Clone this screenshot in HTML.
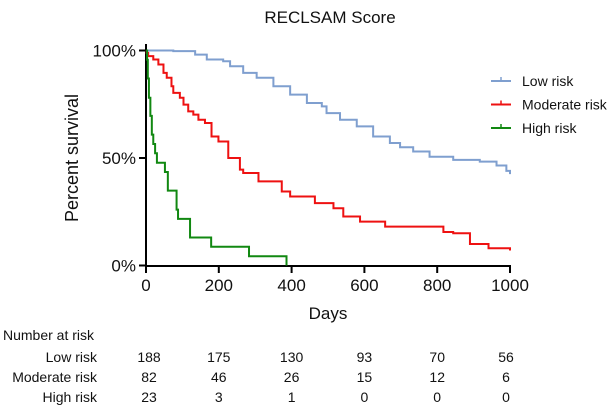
<!DOCTYPE html>
<html><head><meta charset="utf-8"><style>
body{margin:0;background:#fff;}
svg{display:block;font-family:"Liberation Sans",Arial,sans-serif;}
</style></head><body>
<svg id="chart" width="613" height="407">
<text x="330" y="23" font-size="17" text-anchor="middle" fill="#111">RECLSAM Score</text>
<text transform="translate(78,158) rotate(-90)" font-size="18" text-anchor="middle" fill="#111">Percent survival</text>
<text x="328" y="319" font-size="17" text-anchor="middle" fill="#111">Days</text>
<g id="axes"></g><g id="curves"></g><g id="legend"></g><g id="table"></g>
</svg>
<script>
const xTicks=[0,200,400,600,800,1000];
const yTicks=[0,50,100];
const seriesNames=["Low risk","Moderate risk","High risk"];
const seriesColors=["#7f9fcf","#ee1111","#118811"];
const lowT=[0,75,135,167,212,231,267,304,350,396,442,483,496,533,579,624,670,698,734,779,844,917,963,990,1000];
const lowS=[100,99.7,98.1,95.8,95,92.7,89.6,87.3,83.4,79.5,75.6,74,70.9,67.8,64.7,60,57,55,53,50.6,49.1,48.3,46.5,44,42.5];
const modT=[0,2,6,20,34,48,57,70,75,93,103,116,130,144,162,180,199,226,258,267,309,373,396,464,515,542,588,657,817,844,890,941,1000];
const modS=[100,98.9,97.4,95.8,93.5,89.6,87.3,83.4,80.3,78,74.8,71.7,70.2,67.8,66.3,60,57.7,50,44.6,43,39.1,34.4,32.1,29,26.6,22.8,20.4,18.1,15.6,15,10,8,7];
const highT=[0,3,5,8,12,16,20,25,30,52,60,84,88,121,179,283,386];
const highS=[100,95.7,87,78,69.6,60.9,56.5,52.2,47.8,43.5,34.8,26,21.7,13,8.7,4.3,0];
const riskLow=[188,175,130,93,70,56];
const riskMod=[82,46,26,15,12,6];
const riskHigh=[23,3,1,0,0,0];
const NS="http://www.w3.org/2000/svg";
const X=d=>146+d*0.364, Y=s=>265.5-s*2.15;
function mk(tag,attrs,parent,text){const e=document.createElementNS(NS,tag);for(const k in attrs)e.setAttribute(k,attrs[k]);if(text!==undefined)e.textContent=text;parent.appendChild(e);return e;}
const axes=document.getElementById('axes');
let e=mk('line',{x1:146,y1:44,x2:146,y2:266.5,stroke:'#000','stroke-width':2},axes);


e=mk('line',{x1:145,y1:266,x2:511,y2:266,stroke:'#000','stroke-width':2},axes);


xTicks.forEach(t=>{
 let l=mk('line',{x1:X(t),y1:266,x2:X(t),y2:273,stroke:'#000','stroke-width':2},axes);
 
 
 let tx=mk('text',{x:X(t),y:291,'font-size':17,'text-anchor':'middle',fill:'#111'},axes,String(t));
 
 
});
yTicks.forEach(t=>{
 let l=mk('line',{x1:139,y1:Y(t),x2:146,y2:Y(t),stroke:'#000','stroke-width':2},axes);
 
 
 let tx=mk('text',{x:136,y:Y(t)+6,'font-size':17,'text-anchor':'end',fill:'#111'},axes,t+'%');
 
 
});
const curves=document.getElementById('curves');
[[lowT,lowS],[modT,modS],[highT,highS]].forEach((s,i)=>{
 const [T,S]=s;let d='M'+X(T[0])+','+Y(S[0]);
 for(let k=1;k<T.length;k++){d+=' H'+X(T[k])+' V'+Y(S[k]);}
 if(i<2)d+=' H'+X(1000);
 const p=mk('path',{d:d,fill:'none',stroke:seriesColors[i],'stroke-width':2},curves);
 
 
});
const legend=document.getElementById('legend');
seriesNames.forEach((n,i)=>{
 const y=81+i*23.5;
 const g=mk('g',{},legend);
 
 
 mk('line',{x1:491,y1:y,x2:511,y2:y,stroke:seriesColors[i],'stroke-width':2},g);
 mk('line',{x1:501,y1:y-4,x2:501,y2:y,stroke:seriesColors[i],'stroke-width':1.5},g);
 mk('text',{x:522,y:y+5,'font-size':14,fill:'#111'},g,n);
});
const table=document.getElementById('table');
let h=mk('text',{x:3,y:340,'font-size':14,fill:'#111'},table,'Number at risk');


[riskLow,riskMod,riskHigh].forEach((r,i)=>{
 const y=362+i*20;
 let lb=mk('text',{x:97,y:y,'font-size':14,'text-anchor':'end',fill:'#111'},table,seriesNames[i]);
 
 
 r.forEach((v,j)=>{
  let c=mk('text',{x:X(xTicks[j])+(j==0?3:0)+(j==5?-4:0),y:y,'font-size':14,'text-anchor':'middle',fill:'#111'},table,String(v));
  
  
 });
});
</script>
</body></html>
